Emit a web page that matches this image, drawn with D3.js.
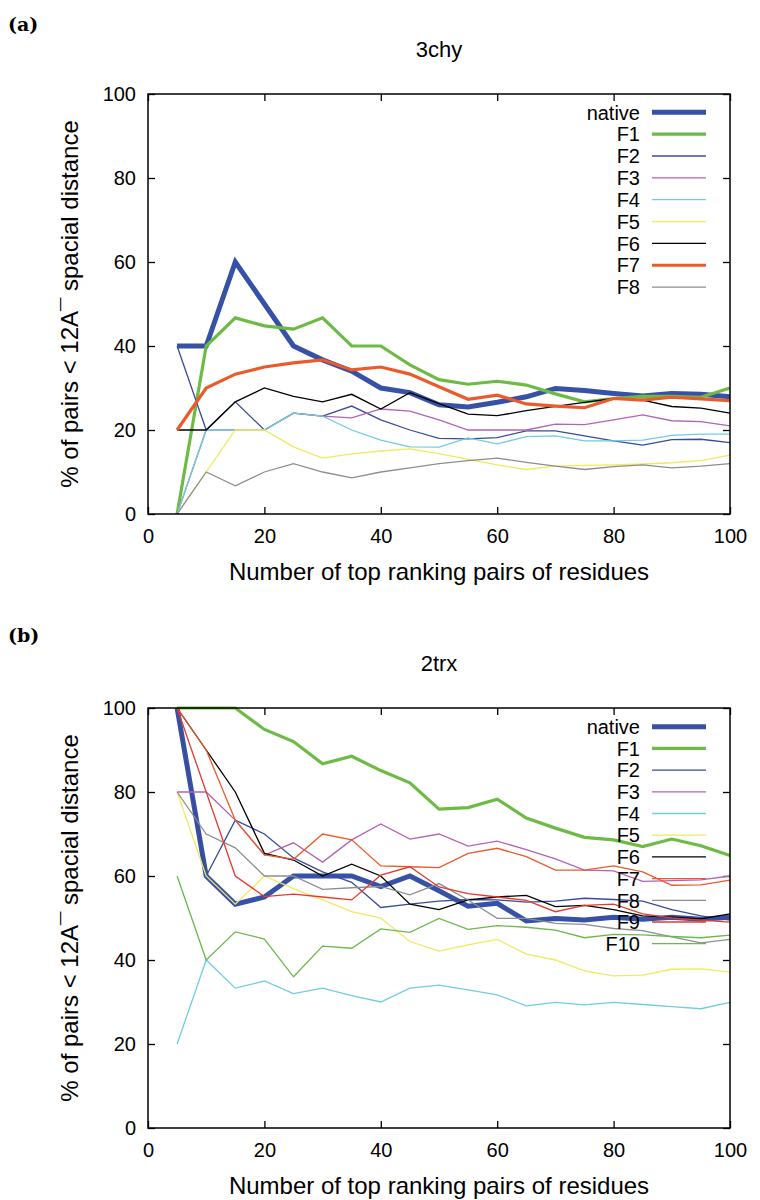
<!DOCTYPE html>
<html>
<head>
<meta charset="utf-8">
<script src="https://cdn.jsdelivr.net/npm/d3@7"></script>
<style>
  body { margin: 0; background: #fff; }
  text { font-family: "Liberation Sans", Arial, sans-serif; fill: #000; }
</style>
</head>
<body>
<svg id="chart" width="760" height="1200"></svg>
<script>
// ---------- data ----------
const xValues = [5,10,15,20,25,30,35,40,45,50,55,60,65,70,75,80,85,90,95,100];
const xTickValues = [0,20,40,60,80,100];
const yTickValues = [0,20,40,60,80,100];

// Panel (a) 3chy
const a_native = [40,40,60,50,40,36.7,34,30,28.9,26,25.5,26.6,27.9,29.9,29.4,28.7,28.1,28.7,28.5,27.9];
const a_F1 = [0,40,46.7,44.8,44,46.7,40,40,35.5,32,30.9,31.6,30.7,28.6,26.7,27.5,28,28,27.8,30];
const a_F2 = [40,20,26.7,20,24,23.3,25.7,22.4,20,18,17.9,18.2,19.8,19.8,18.6,17.4,16.4,17.7,17.8,17];
const a_F3 = [0,20,20,20,24,23.3,22.9,25,24.5,22.4,20,20,20,21.4,21.3,22.4,23.6,22.2,22,21];
const a_F4 = [0,20,20,20,24,23.3,20,17.6,16,15.9,18.1,16.7,18.4,18.6,17.4,17.4,17.6,18.7,19,19];
const a_F5 = [0,10,20,20,16,13.3,14.3,15,15.5,14.4,13,11.7,10.6,11.4,11.6,11.7,11.9,12.2,12.7,14];
const a_F6 = [20,20,26.7,30,28,26.7,28.5,25,28.9,26.3,23.8,23.4,24.6,25.6,26.6,27.5,27.1,25.6,25.2,24];
const a_F7 = [20,30,33.3,35,36,36.7,34.3,35,33.3,30.3,27.3,28.3,26.2,25.7,25.3,27.5,27.1,27.8,27.4,27];
const a_F8 = [0,10,6.7,10,12,10,8.6,10,11,12,12.7,13.3,12.3,11.4,10.6,11.3,11.7,11,11.4,12];

// Panel (b) 2trx
const b_native = [100,60,53.3,55,60,60,60,57.5,60,56.5,52.8,53.5,49.3,49.9,49.5,50.2,49.7,50.2,49.7,50.2];
const b_F1 = [100,100,100,94.9,92,86.7,88.5,85.1,82.2,75.9,76.3,78.3,73.8,71.4,69.2,68.6,67,68.8,67.2,64.9];
const b_F2 = [100,60,73.3,70,64.3,61,58.5,52.5,53.3,54,54.4,54.3,53.8,54,54.7,54.4,54,52,50.5,49.5];
const b_F3 = [80,80,73.3,65,67.9,63.3,68.6,72.4,68.8,70,67.1,68.3,66.3,64.1,61.4,61.2,58.7,58.9,59.1,60];
const b_F4 = [20,40,33.3,35,32,33.3,31.5,30,33.3,34,32.9,31.7,29.1,29.9,29.3,29.9,29.4,28.9,28.4,29.9];
const b_F5 = [80,60,53.3,60,57,54.3,51.5,50,44.4,42.1,43.6,44.9,41.4,40,37.4,36.2,36.4,37.8,37.9,37.1];
const b_F6 = [100,90,80,65.4,63.8,60,62.8,60,53.3,52,54.3,55,55.4,52.7,53,52,50.5,50.2,49.8,51];
const b_F7 = [100,90,73.3,65,64,70,68.6,62.4,62.2,62,65.4,66.6,64.6,61.4,61.4,62.4,61,57.8,57.9,59];
const b_F8 = [80,70,66.7,60,60,56.8,57.2,57.5,55.5,58.2,54.3,49.9,49.9,48.7,48.5,47.5,47,45.5,44.1,44.9];
const b_F9 = [100,80,60,55.1,55.7,55,54.3,60.2,62.2,57.4,55.8,55,54.2,51.5,53,53.3,51,50,49.5,49];
const b_F10 = [60,40,46.7,45,36,43.3,42.8,47.4,46.6,49.9,47.3,48.2,47.8,47.1,45.3,46.1,46,45.6,45.3,45.9];

// ---------- styles ----------
const colors = {
  native: "#3651a6", F1: "#6dbb45", F2: "#3b4b9a", F3: "#b462b4", F4: "#6fcde0",
  F5: "#f0ea5c", F6: "#000000", F7: "#ea5a2a", F8: "#8e8e8e", F9: "#e53a2e", F10: "#6cb84c"
};

const panels = [
  {
    tag: "(a)", title: "3chy", top: 94, bottom: 514, tagY: 31,
    series: [
      ["native", a_native, 5], ["F1", a_F1, 3.2], ["F2", a_F2, 1.3], ["F3", a_F3, 1.3],
      ["F4", a_F4, 1.3], ["F5", a_F5, 1.3], ["F6", a_F6, 1.3], ["F7", a_F7, 3.2], ["F8", a_F8, 1.3]
    ],
    legendY0: 112.3, legendStep: 21.85
  },
  {
    tag: "(b)", title: "2trx", top: 708, bottom: 1128, tagY: 642,
    series: [
      ["native", b_native, 5], ["F1", b_F1, 3.2], ["F2", b_F2, 1.3], ["F3", b_F3, 1.3],
      ["F4", b_F4, 1.3], ["F5", b_F5, 1.3], ["F6", b_F6, 1.3], ["F7", b_F7, 1.3], ["F8", b_F8, 1.3],
      ["F9", b_F9, 1.3], ["F10", b_F10, 1.3]
    ],
    legendY0: 726.7, legendStep: 21.7
  }
];

const svg = d3.select("#chart");
svg.append("rect").attr("width", 760).attr("height", 1200).attr("fill", "#fff");

const left = 148, right = 730;

panels.forEach(p => {
  const x = d3.scaleLinear().domain([0, 100]).range([left, right]);
  const y = d3.scaleLinear().domain([0, 100]).range([p.bottom, p.top]);
  const g = svg.append("g");

  // tag
  svg.append("text").attr("x", 8).attr("y", p.tagY)
    .style("font-family", "'DejaVu Serif', 'Liberation Serif', serif")
    .style("font-weight", "bold").style("font-size", "19px").text(p.tag);

  // title
  g.append("text").attr("x", (left + right) / 2).attr("y", p.top - 37)
    .attr("text-anchor", "middle").style("font-size", "22px").text(p.title);

  // axes
  const axB = d3.axisBottom(x).tickValues(xTickValues).tickSize(-7).tickPadding(15).tickFormat(d3.format("d"));
  const axT = d3.axisTop(x).tickValues(xTickValues).tickSize(-7).tickFormat("");
  const axL = d3.axisLeft(y).tickValues(yTickValues).tickSize(-7).tickPadding(12).tickFormat(d3.format("d"));
  const axR = d3.axisRight(y).tickValues(yTickValues).tickSize(-7).tickFormat("");

  const styleAxis = sel => {
    sel.select(".domain").remove();
    sel.selectAll("line").attr("stroke", "#000").attr("stroke-width", 1.3);
    sel.selectAll("text").style("font-size", "20px").style("font-family", "'Liberation Sans', Arial, sans-serif").attr("fill", "#000");
  };
  g.append("g").attr("transform", `translate(0,${p.bottom})`).call(axB).call(styleAxis);
  g.append("g").attr("transform", `translate(0,${p.top})`).call(axT).call(styleAxis);
  g.append("g").attr("transform", `translate(${left},0)`).call(axL).call(styleAxis);
  g.append("g").attr("transform", `translate(${right},0)`).call(axR).call(styleAxis);

  // lines
  const line = d3.line().x((d, i) => x(xValues[i])).y(d => y(d));
  const clipId = "clip" + p.tag.replace(/\W/g, "");
  svg.append("clipPath").attr("id", clipId).append("rect")
    .attr("x", left - 3).attr("y", p.top - 3).attr("width", right - left + 6).attr("height", p.bottom - p.top + 6);
  const lg = g.append("g").attr("clip-path", `url(#${clipId})`);
  p.series.forEach(([name, vals, w]) => {
    lg.append("path").datum(vals).attr("d", line)
      .attr("fill", "none").attr("stroke", colors[name]).attr("stroke-width", w)
      .attr("stroke-linejoin", "miter").attr("stroke-miterlimit", 3);
  });

  // legend
  p.series.forEach(([name, vals, w], i) => {
    const cy = p.legendY0 + i * p.legendStep;
    g.append("text").attr("x", 640).attr("y", cy).attr("dy", "0.36em")
      .attr("text-anchor", "end").style("font-size", "20px").text(name);
    g.append("line").attr("x1", 652).attr("x2", 706).attr("y1", cy).attr("y2", cy)
      .attr("stroke", colors[name]).attr("stroke-width", w);
  });

  // frame
  g.append("rect").attr("x", left).attr("y", p.top).attr("width", right - left).attr("height", p.bottom - p.top)
    .attr("fill", "none").attr("stroke", "#000").attr("stroke-width", 1.5);

  // axis labels
  g.append("text").attr("x", 439).attr("y", p.bottom + 66)
    .attr("text-anchor", "middle").style("font-size", "24px")
    .text("Number of top ranking pairs of residues");
  g.append("text")
    .attr("transform", `translate(78,${(p.top + p.bottom) / 2}) rotate(-90)`)
    .attr("text-anchor", "middle").style("font-size", "24px")
    .text("% of pairs < 12A\u00AF spacial distance");
});
</script>
</body>
</html>
